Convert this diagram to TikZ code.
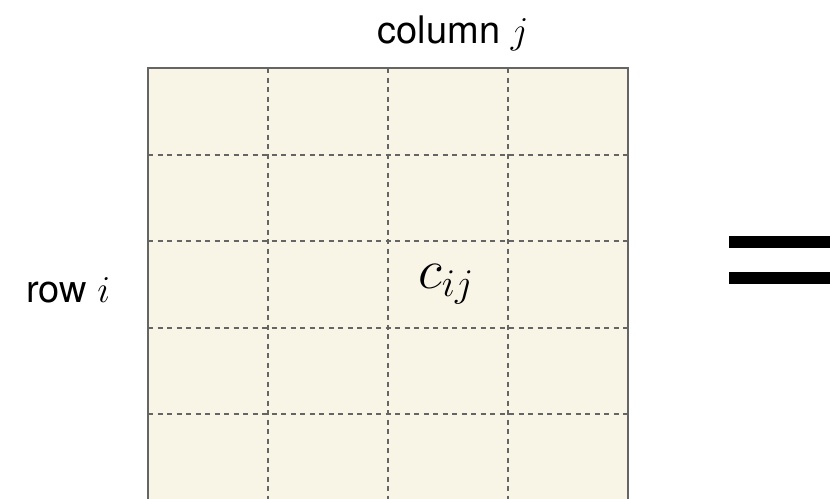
\RequirePackage{fix-cm}
\documentclass[tikz,border=0pt]{standalone}
\usepackage{fontspec}
\setmainfont{TeX Gyre Heros}
\definecolor{cellfill}{HTML}{F8F5E7}
\definecolor{gridgray}{HTML}{656565}
\tikzset{
  labeltext/.style={inner sep=0pt, font=\fontsize{38}{40}\selectfont},
  entrytext/.style={inner sep=0pt, font=\fontsize{56}{60}\selectfont},
  gridline/.style={gridgray, line width=2pt, dash pattern=on 5pt off 4.5pt},
  border/.style={gridgray, line width=2.7pt},
  eqbar/.style={fill=black, draw=none}
}
\begin{document}
\begin{tikzpicture}[x=1pt,y=-1pt]
\useasboundingbox (0,0) rectangle (830,498);
\clip (0,0) rectangle (830,498);
% matrix body
\fill[cellfill] (148,68) rectangle (628,600);
\foreach \yy in {154.5,241,327.5,414,500.5}
  \draw[gridline] (148,\yy) -- (628,\yy);
\foreach \xx in {268,388,508}
  \draw[gridline] (\xx,68) -- (\xx,600);
\draw[border] (148,600) -- (148,68) -- (628,68) -- (628,600);
% labels
\node[labeltext, anchor=base] (col) at (453,43) {column $j$};
\node[labeltext, anchor=base west] (row) at (26,302) {row $i$};
\node[entrytext, anchor=base] (cij) at (446,288) {$c_{ij}$};
% equals sign
\fill[eqbar] (729,236) rectangle (840,248);
\fill[eqbar] (729,272) rectangle (840,284);
\end{tikzpicture}
\end{document}
